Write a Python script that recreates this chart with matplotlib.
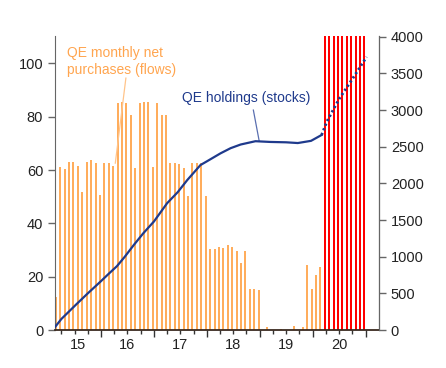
import numpy as np
import matplotlib
matplotlib.use("Agg")
import matplotlib.pyplot as plt
from matplotlib.ticker import FixedLocator

plt.rcParams['font.family'] = ['Liberation Sans', 'DejaVu Sans']

# DATA
# monthly net purchases (EUR bn, left axis), Feb 2015 .. Feb 2020
flow_start = (2015, 2)
flows = [12.5, 61.2, 60.4, 63.2, 63.2, 61.5, 51.8, 63.2, 63.8, 62.7, 50.8,
         62.7, 62.5, 61.6, 85.1, 85.5, 85.1, 80.7, 60.7, 85.1, 85.5, 85.5, 61.1,
         85.1, 80.7, 80.5, 62.7, 62.7, 62.4, 60.6, 50.3, 62.7, 62.7, 62.7, 50.3,
         30.4, 30.4, 31.0, 30.6, 31.9, 31.25, 29.75, 25.1, 29.75, 15.25, 15.5, 15.0,
         0.0, 1.0, 0.0, 0.0, 0.5, 0.0, 0.0, 1.5, 0.0, 1.25, 24.25, 15.5,
         20.6, 23.5]
# Mar 2020 .. Dec 2020, off the scale
red_start = (2020, 3)
red_flows = [120, 120, 120, 120, 120, 120, 120, 120, 120, 120]

# holdings (EUR bn, right axis)
stock_x = [2015.13, 2015.25, 2015.54, 2015.75, 2015.99, 2016.15, 2016.30, 2016.45,
           2016.62, 2016.80, 2017.00, 2017.25, 2017.45, 2017.63, 2017.88, 2018.00,
           2018.26, 2018.45, 2018.64, 2018.92, 2019.20, 2019.50, 2019.72, 2019.97,
           2020.17]
stock_y = [40, 150, 355, 500, 660, 770, 870, 1000, 1160, 1320, 1480, 1730, 1880,
           2045, 2250, 2300, 2410, 2480, 2530, 2575, 2565, 2560, 2550, 2580, 2660]
proj_x = [2020.17, 2020.27, 2020.50, 2020.75, 2021.02]
proj_y = [2660, 2844, 3150, 3422, 3725]

years = ['15', '16', '17', '18', '19', '20']


def month_pos(start, n):
    y, m = start
    out = []
    for i in range(n):
        mm = m - 1 + i
        out.append(y + mm // 12 + (mm % 12 + 0.75) / 12)
    return out


fig = plt.figure(figsize=(4.46, 3.68), dpi=100)
ax = fig.add_axes([55 / 446, 1 - 330 / 368, 324 / 446, 294 / 368])
ax2 = ax.twinx()

x0, x1 = 2015.13, 2021.255
orange = '#FFAD5C'
navy = '#1F3A8C'
grey = '#666666'

ax.bar(month_pos(flow_start, len(flows)), flows, width=0.038, color=orange, zorder=2)
ax.bar(month_pos(red_start, len(red_flows)), red_flows, width=0.038, color='#FF0000', zorder=2)

ax2.plot(stock_x, stock_y, color=navy, lw=1.6, zorder=3)
ax2.plot(proj_x, proj_y, color=navy, lw=2, linestyle=(0, (0.8, 1.0)), zorder=3)

ax.set_xlim(x0, x1)
ax.set_ylim(0, 110.3)
ax2.set_ylim(0, 4010)
ax.set_yticks([0, 20, 40, 60, 80, 100])
ax2.set_yticks([0, 500, 1000, 1500, 2000, 2500, 3000, 3500, 4000])

ax.set_xticks([2016, 2017, 2018, 2019, 2020, 2021])
ax.set_xticklabels([])
ax.xaxis.set_minor_locator(FixedLocator([y + q for y in range(2015, 2021)
                                         for q in (0.25, 0.5, 0.75)]))
ax.tick_params(axis='x', which='major', length=5, width=1, color='#333333')
ax.tick_params(axis='x', which='minor', length=3, width=1, color='#333333')
ax.tick_params(axis='y', length=5, width=1, color=grey, labelsize=10.5, labelcolor='#222222')
ax2.tick_params(axis='y', length=5, width=1, color=grey, labelsize=10.5, labelcolor='#222222')

for i, lab in enumerate(years):
    a = max(2015 + i, x0)
    b = min(2016 + i, x1)
    ax.text((a + b) / 2, -0.05, lab, transform=ax.get_xaxis_transform(),
            ha='center', va='center', fontsize=10.5, color='#222222')

for a in (ax, ax2):
    a.spines['top'].set_visible(False)
ax.spines['left'].set_color(grey)
ax2.spines['right'].set_color(grey)
ax.spines['bottom'].set_color('#3a2a20')
ax.spines['bottom'].set_linewidth(1.3)
ax2.spines['left'].set_visible(False)
ax2.spines['bottom'].set_visible(False)

# annotations
ax.text(2015.35, 103.9, 'QE monthly net', color='#FFA54F', fontsize=10, va='center')
ax.text(2015.35, 97.5, 'purchases (flows)', color='#FFA54F', fontsize=10, va='center')
ax.plot([2016.47, 2016.27], [94.5, 62.6], color='#FFC48A', lw=0.9, zorder=4)
ax.text(2017.53, 87.1, 'QE holdings (stocks)', color=navy, fontsize=10, va='center')
ax.plot([2018.88, 2018.99], [82.5, 70.9], color='#5A6FB0', lw=0.9, zorder=4)

fig.savefig('out.png', dpi=100)
